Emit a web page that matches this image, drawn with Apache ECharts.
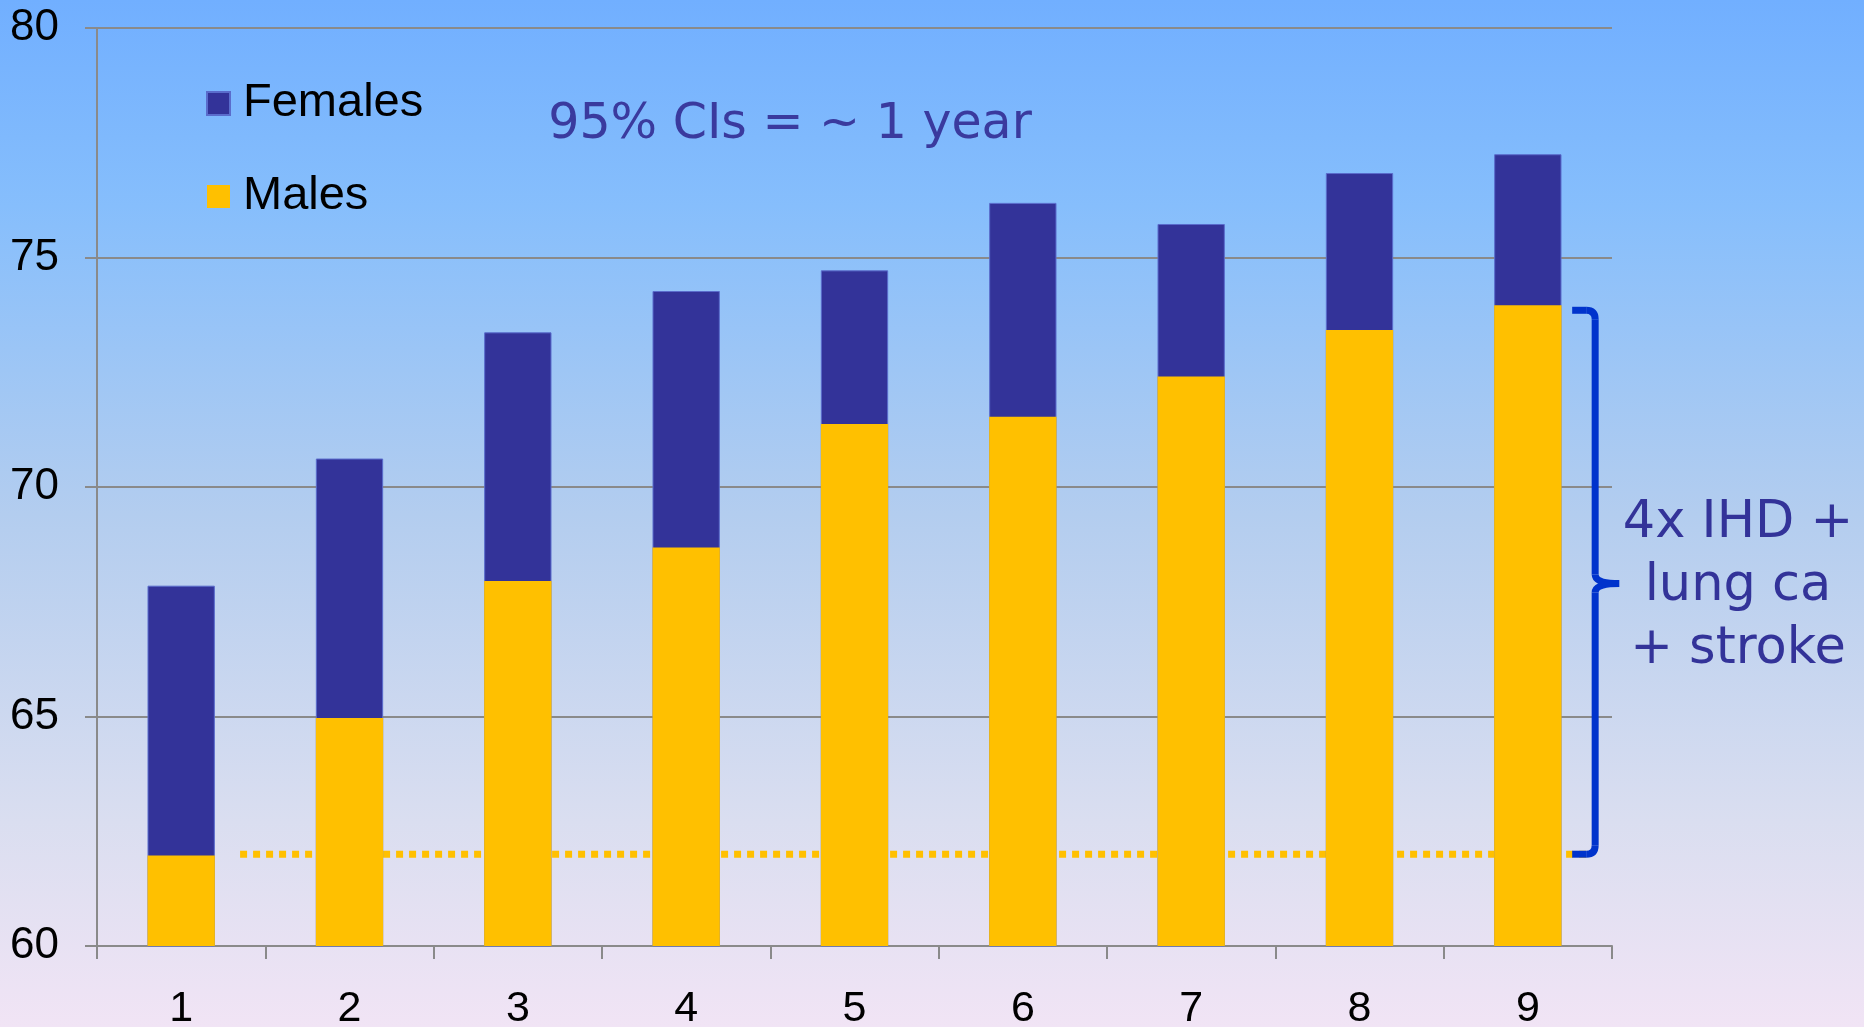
<!DOCTYPE html>
<html>
<head>
<meta charset="utf-8">
<script src="https://cdn.jsdelivr.net/npm/echarts@6/dist/echarts.min.js"></script>
<style>
  html, body { margin: 0; padding: 0; }
  #main { width: 1864px; height: 1027px; }
</style>
</head>
<body>
<div id="main"></div>
<script>
// categories
const categories = ['1', '2', '3', '4', '5', '6', '7', '8', '9']
// life expectancy values
const females = [67.85, 70.62, 73.37, 74.27, 74.72, 76.19, 75.73, 76.84, 77.25]
const males = [61.97, 64.97, 67.95, 68.68, 71.37, 71.53, 72.41, 73.42, 73.96]
// y ticks
const yMin = 60
const yMax = 80
const yStep = 5
// reference line (lowest male value) and bracket span
const refLevel = 62
const bracketTop = 73.85
const bracketMid = 67.9
const refLineFrom = 0.85
const refLineTo = 8.88
// annotation texts
const ciText = '95% CIs = ~ 1 year'
const noteLines = ['4x IHD +', 'lung ca', '+ stroke']

const chart = echarts.init(document.getElementById('main'))

const option = {
  animation: false,
  backgroundColor: new echarts.graphic.LinearGradient(0, 0, 0, 1, [
    { offset: 0, color: '#71afff' },
    { offset: 0.2, color: '#86befc' },
    { offset: 0.5, color: '#b3cdef' },
    { offset: 0.8, color: '#dadef0' },
    { offset: 1, color: '#f1e4f5' }
  ]),
  grid: { left: 97, right: 252, top: 28, bottom: 81, containLabel: false, outerBoundsMode: 'none' },
  legend: {
    data: ['Females', 'Males'],
    orient: 'vertical',
    left: 206,
    top: 80,
    itemWidth: 23,
    itemHeight: 23,
    itemGap: 46,
    icon: 'rect',
    padding: 0,
    textStyle: {
      fontFamily: 'Liberation Sans',
      fontSize: 47,
      color: '#000',
      padding: [0, 0, 0, 8]
    }
  },
  xAxis: [
    {
      type: 'category',
      data: categories,
      boundaryGap: true,
      axisLine: { lineStyle: { color: '#8a8a8a', width: 2 } },
      axisTick: { show: true, length: 13, lineStyle: { color: '#8a8a8a', width: 2 } },
      axisLabel: { color: '#000', fontFamily: 'Liberation Sans', fontSize: 43, margin: 42 },
      splitLine: { show: false }
    },
    {
      // hidden helper axis for the annotations
      type: 'value',
      min: 0,
      max: categories.length,
      show: false
    }
  ],
  yAxis: {
    type: 'value',
    min: yMin,
    max: yMax,
    interval: yStep,
    axisLine: { show: true, lineStyle: { color: '#8a8a8a', width: 2 } },
    axisTick: { show: true, length: 12, lineStyle: { color: '#8a8a8a', width: 2 } },
    axisLabel: { color: '#000', fontFamily: 'Liberation Sans', fontSize: 44, margin: 38 },
    splitLine: { show: true, lineStyle: { color: '#8a8a8a', width: 2 } }
  },
  series: [
    {
      name: 'Females',
      type: 'bar',
      data: females,
      barWidth: '40%',
      barGap: '-100%',
      itemStyle: { color: '#333399', borderColor: '#5a6ccc', borderWidth: 1 },
      z: 2
    },
    {
      name: 'Males',
      type: 'bar',
      data: males,
      barWidth: '40%',
      barGap: '-100%',
      itemStyle: { color: '#ffc000' },
      z: 3
    },
    {
      name: 'ref',
      type: 'line',
      xAxisIndex: 1,
      data: [[refLineFrom, refLevel], [refLineTo, refLevel]],
      symbol: 'none',
      lineStyle: { color: '#ffc000', width: 7, type: [7, 6] },
      z: 1
    }
  ]
}

chart.setOption(option)

// curly brace and texts, positioned through the chart's scales
function drawNotes() {
  const p = (x, y) => chart.convertToPixel({ xAxisIndex: 1, yAxisIndex: 0 }, [x, y])
  const top = p(8.9, bracketTop)
  const mid = p(8.9, bracketMid)
  const bot = p(8.9, refLevel)
  const bx = top[0]
  const armL = bx - 23
  const tip = bx + 24
  const r = 9
  const st = { stroke: '#0033cc', lineWidth: 7, fill: null, lineCap: 'butt' }
  const seg = (x1, y1, x2, y2) => ({ type: 'line', shape: { x1, y1, x2, y2 }, style: st, z: 10 })
  const crv = (x1, y1, cx, cy, x2, y2) => ({
    type: 'bezierCurve',
    shape: { x1, y1, cpx1: cx, cpy1: cy, x2, y2 },
    style: st,
    z: 10
  })

  const brace = [
    seg(armL, top[1], bx - r, top[1]),
    crv(bx - r, top[1], bx, top[1], bx, top[1] + r),
    seg(bx, top[1] + r, bx, mid[1] - r),
    crv(bx, mid[1] - r, bx, mid[1], tip, mid[1]),
    crv(tip, mid[1], bx, mid[1], bx, mid[1] + r),
    seg(bx, mid[1] + r, bx, bot[1] - r),
    crv(bx, bot[1] - r, bx, bot[1], bx - r, bot[1]),
    seg(bx - r, bot[1], armL, bot[1])
  ]

  const txt = noteLines.map((t, i) => ({
    type: 'text',
    x: 1738,
    y: mid[1] - 60 + i * 63,
    style: {
      text: t,
      fill: '#333399',
      font: '51px "DejaVu Sans"',
      textAlign: 'center',
      textVerticalAlign: 'middle'
    }
  }))

  chart.setOption({
    graphic: brace.concat([
      {
        type: 'text',
        x: 790,
        y: 125,
        style: {
          text: ciText,
          fill: '#3a3a9e',
          font: '49px "DejaVu Sans"',
          textAlign: 'center',
          textVerticalAlign: 'middle'
        }
      }
    ]).concat(txt)
  })
}
drawNotes()
</script>
</body>
</html>
